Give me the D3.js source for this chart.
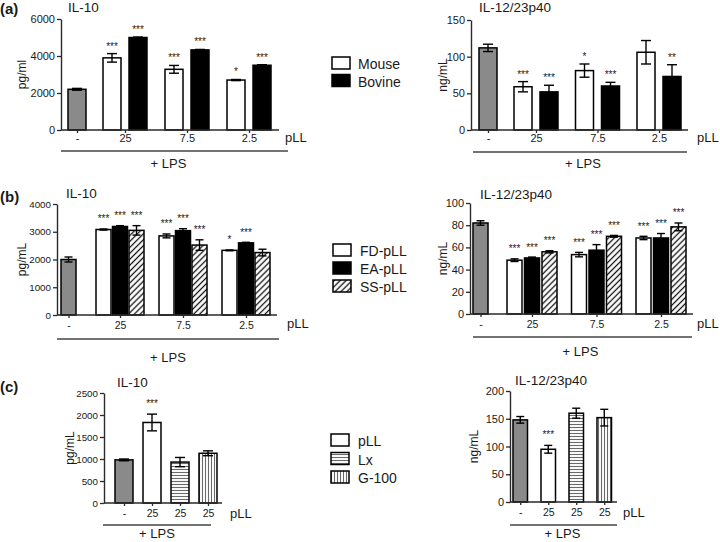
<!DOCTYPE html>
<html><head><meta charset="utf-8">
<script src="https://cdn.jsdelivr.net/npm/d3@7"></script>
<style>
body{margin:0;background:#fff}
svg text{font-family:Arial,"Liberation Sans",Helvetica,sans-serif;fill:#1a1a1a}
</style>
</head><body>
<svg id="chart" width="720" height="542"></svg>
<script>
// ---------------- DATA ----------------
const doseLabelsAB = ["-", "25", "7.5", "2.5"];
const doseLabelsC = ["-", "25", "25", "25"];

const legendA = ["Mouse", "Bovine"];
const legendB = ["FD-pLL", "EA-pLL", "SS-pLL"];
const legendC = ["pLL", "Lx", "G-100"];

// (a)
const barSeriesA = ["LPS", "Mouse", "Bovine", "Mouse", "Bovine", "Mouse", "Bovine"];
const barGroupA = [0, 1, 1, 2, 2, 3, 3];
const aIL10Mean = [2200, 3900, 5000, 3280, 4330, 2700, 3500];
const aIL10Err = [50, 230, 25, 210, 25, 30, 30];
const aIL10Sig = ["", "***", "***", "***", "***", "*", "***"];
const aIL10Ticks = [0, 2000, 4000, 6000];
const aIL12Mean = [112, 59, 52, 81, 60, 106, 73];
const aIL12Err = [5, 7, 9, 9, 5, 16, 16];
const aIL12Sig = ["", "***", "***", "*", "***", "", "**"];
const aIL12Ticks = [0, 50, 100, 150];

// (b)
const barSeriesB = ["LPS", "FD-pLL", "EA-pLL", "SS-pLL", "FD-pLL", "EA-pLL", "SS-pLL", "FD-pLL", "EA-pLL", "SS-pLL"];
const barGroupB = [0, 1, 1, 1, 2, 2, 2, 3, 3, 3];
const bIL10Mean = [2000, 3080, 3190, 3050, 2850, 3040, 2520, 2330, 2600, 2250];
const bIL10Err = [90, 20, 30, 170, 70, 70, 190, 15, 20, 120];
const bIL10Sig = ["", "***", "***", "***", "***", "***", "***", "*", "***", ""];
const bIL10Ticks = [0, 1000, 2000, 3000, 4000];
const bIL12Mean = [82, 48.5, 50.5, 56, 53.5, 57.5, 70, 68.5, 68.5, 78.5];
const bIL12Err = [2, 1.2, 0.8, 1, 2, 5, 0.8, 1.5, 4, 3.5];
const bIL12Sig = ["", "***", "***", "***", "***", "***", "***", "***", "***", "***"];
const bIL12Ticks = [0, 20, 40, 60, 80, 100];

// (c)
const barSeriesC = ["LPS", "pLL", "Lx", "G-100"];
const barGroupC = [0, 1, 2, 3];
const cIL10Mean = [980, 1830, 930, 1130];
const cIL10Err = [20, 190, 105, 55];
const cIL10Sig = ["", "***", "", ""];
const cIL10Ticks = [0, 500, 1000, 1500, 2000, 2500];
const cIL12Mean = [148, 95, 160, 152];
const cIL12Err = [6, 7, 9, 15];
const cIL12Sig = ["", "***", "", ""];
const cIL12Ticks = [0, 50, 100, 150, 200];

// ---------------- STYLES ----------------
const svg = d3.select("#chart");
const defs = svg.append("defs");
function hatch(id, rot, spacing, color, sw) {
  const p = defs.append("pattern").attr("id", id).attr("patternUnits", "userSpaceOnUse")
    .attr("width", spacing).attr("height", spacing).attr("patternTransform", `rotate(${rot})`);
  p.append("rect").attr("width", spacing).attr("height", spacing).attr("fill", "#fff");
  p.append("line").attr("x1", spacing / 2).attr("y1", 0).attr("x2", spacing / 2).attr("y2", spacing)
    .attr("stroke", color).attr("stroke-width", sw);
}
hatch("diag", 45, 4.2, "#111", 1.3);
hatch("horiz", 90, 3, "#6a6a6a", 1.1);
hatch("vert", 0, 3, "#6a6a6a", 1.1);

const fillFor = {
  "LPS": "#8a8a8a",
  "Mouse": "#fff", "Bovine": "#000",
  "FD-pLL": "#fff", "EA-pLL": "#000", "SS-pLL": "url(#diag)",
  "pLL": "#fff", "Lx": "url(#horiz)", "G-100": "url(#vert)"
};
const AX = "#2a2a2a";
const FONT = "Arial, 'Liberation Sans', sans-serif";

// ---------------- DRAW ----------------
function drawPanel(cfg, d) {
  const g = svg.append("g");
  const nGroups = d3.max(d.group) + 1;
  let pos = cfg.pad;
  const barX = [], centers = [];
  for (let gi = 0; gi < nGroups; gi++) {
    if (gi > 0) pos += (gi === 1 ? cfg.firstGap : cfg.gap);
    const start = pos;
    const idx = d.group.map((v, i) => v === gi ? i : -1).filter(i => i >= 0);
    idx.forEach((i, k) => {
      barX[i] = pos; pos += cfg.barW;
      if (k < idx.length - 1) pos += cfg.inner;
    });
    centers.push((start + pos) / 2);
  }
  const total = pos + cfg.padR;
  const x = d3.scaleLinear().domain([0, total]).range([cfg.axisX, cfg.axisX + total]);
  const y = d3.scaleLinear().domain([0, d3.max(d.ticks)]).range([cfg.yBot, cfg.yTop]);

  g.selectAll("rect.bar").data(d.mean).enter().append("rect")
    .attr("x", (v, i) => x(barX[i]))
    .attr("width", (v, i) => x(barX[i] + cfg.barW) - x(barX[i]))
    .attr("y", v => y(v))
    .attr("height", v => y(0) - y(v))
    .attr("fill", (v, i) => fillFor[d.series[i]])
    .attr("stroke", "#000").attr("stroke-width", 1.5);

  const cap = cfg.cap;
  d.mean.forEach((v, i) => {
    const cx = x(barX[i] + cfg.barW / 2);
    const y1 = y(v + d.err[i]), y0 = y(v - d.err[i]);
    const eg = g.append("g").attr("stroke", "#000").attr("stroke-width", 1.4);
    eg.append("line").attr("x1", cx).attr("x2", cx).attr("y1", y1).attr("y2", y0);
    eg.append("line").attr("x1", cx - cap / 2).attr("x2", cx + cap / 2).attr("y1", y1).attr("y2", y1);
    eg.append("line").attr("x1", cx - cap / 2).attr("x2", cx + cap / 2).attr("y1", y0).attr("y2", y0);
    if (d.sig[i]) {
      g.append("text").attr("x", cx).attr("y", y1 - cfg.starOff)
        .attr("text-anchor", "middle").attr("font-size", 10).style("fill", "#222").text(d.sig[i]);
    }
  });

  const ya = g.append("g").attr("transform", `translate(${cfg.axisX},0)`)
    .call(d3.axisLeft(y).tickValues(d.ticks).tickFormat(d3.format("d")).tickSize(4).tickSizeOuter(0).tickPadding(2));
  ya.select(".domain").attr("stroke", AX).attr("stroke-width", 1.4);
  ya.selectAll(".tick line").attr("stroke", AX).attr("stroke-width", 1.3);
  ya.selectAll(".tick text").attr("font-size", cfg.yFont).attr("font-family", FONT).attr("fill", "#1a1a1a");

  g.append("line").attr("x1", x(0)).attr("x2", x(total)).attr("y1", cfg.yBot).attr("y2", cfg.yBot)
    .attr("stroke", AX).attr("stroke-width", 1.4);
  const xo = d3.scaleOrdinal().domain(d3.range(nGroups)).range(centers.map(c => x(c)));
  const xa = g.append("g").attr("transform", `translate(0,${cfg.yBot})`)
    .call(d3.axisBottom(xo).tickSize(3).tickSizeOuter(0).tickPadding(cfg.tickPad).tickFormat(i => d.labels[i]));
  xa.select(".domain").remove();
  xa.selectAll(".tick line").attr("stroke", AX).attr("stroke-width", 1.3);
  xa.selectAll(".tick text").attr("font-size", cfg.xFont).attr("font-family", FONT).attr("fill", "#1a1a1a");

  g.append("text").attr("x", cfg.pllX).attr("y", cfg.pllY).attr("font-size", 13).text("pLL");
  g.append("line").attr("x1", cfg.lpsX0).attr("x2", cfg.lpsX1).attr("y1", cfg.lpsY).attr("y2", cfg.lpsY)
    .attr("stroke", "#444").attr("stroke-width", 1.4);
  g.append("text").attr("x", (cfg.lpsX0 + cfg.lpsX1) / 2 + cfg.lpsTextShift).attr("y", cfg.lpsTextY)
    .attr("text-anchor", "middle").attr("font-size", 13).text("+ LPS");
  g.append("text").attr("x", cfg.titleX).attr("y", cfg.titleY).attr("font-size", 13.5).text(d.title);
  g.append("text").attr("transform", `translate(${cfg.ylabX},${(cfg.yTop + cfg.yBot) / 2}) rotate(-90)`)
    .attr("text-anchor", "middle").attr("dy", "0.35em").attr("font-size", 12).text(d.ylab);
}

function drawLegend(names, x0, y0, step, textX) {
  const g = svg.append("g");
  names.forEach((n, i) => {
    g.append("rect").attr("x", x0).attr("y", y0 + i * step).attr("width", 18).attr("height", 12)
      .attr("fill", fillFor[n]).attr("stroke", "#000").attr("stroke-width", 1.5);
    g.append("text").attr("x", textX).attr("y", y0 + i * step + 12).attr("font-size", 14).text(n);
  });
}

function panelLetter(t, yb) {
  svg.append("text").attr("x", 0).attr("y", yb).attr("font-size", 15).attr("font-weight", "bold").text(t);
}

// Row (a)
panelLetter("(a)", 14);
drawPanel({axisX: 61, yTop: 19, yBot: 130, pad: 7, barW: 18, inner: 8, firstGap: 17, gap: 18, padR: 8, cap: 10,
  yFont: 11, xFont: 11,
  tickPad: 1, starOff: 4, pllX: 285, pllY: 142, lpsX0: 61, lpsX1: 288, lpsY: 151, lpsTextY: 168, lpsTextShift: -6,
  titleX: 68, titleY: 12, ylabX: 22},
  {group: barGroupA, series: barSeriesA, mean: aIL10Mean, err: aIL10Err, sig: aIL10Sig, ticks: aIL10Ticks,
   labels: doseLabelsAB, title: "IL-10", ylab: "pg/ml"});
drawPanel({axisX: 471, yTop: 20, yBot: 130, pad: 8, barW: 18, inner: 8, firstGap: 17, gap: 17.5, padR: 7, cap: 10,
  yFont: 11, xFont: 11,
  tickPad: 1, starOff: 4, pllX: 697, pllY: 142, lpsX0: 473, lpsX1: 687, lpsY: 152, lpsTextY: 168, lpsTextShift: 3,
  titleX: 479, titleY: 12, ylabX: 443},
  {group: barGroupA, series: barSeriesA, mean: aIL12Mean, err: aIL12Err, sig: aIL12Sig, ticks: aIL12Ticks,
   labels: doseLabelsAB, title: "IL-12/23p40", ylab: "ng/mL"});
drawLegend(legendA, 332, 57, 17.5, 358);

// Row (b)
panelLetter("(b)", 202);
drawPanel({axisX: 57, yTop: 204, yBot: 315, pad: 4, barW: 15, inner: 1.5, firstGap: 20, gap: 15, padR: 7, cap: 8,
  yFont: 9.8, xFont: 10.5,
  tickPad: 4, starOff: 6.5, pllX: 287, pllY: 328, lpsX0: 57, lpsX1: 279, lpsY: 339, lpsTextY: 362, lpsTextShift: 0,
  titleX: 66, titleY: 198, ylabX: 22},
  {group: barGroupB, series: barSeriesB, mean: bIL10Mean, err: bIL10Err, sig: bIL10Sig, ticks: bIL10Ticks,
   labels: doseLabelsAB, title: "IL-10", ylab: "pg/mL"});
drawPanel({axisX: 470, yTop: 203, yBot: 314, pad: 3, barW: 15, inner: 2.5, firstGap: 19, gap: 14.5, padR: 7, cap: 8,
  yFont: 11, xFont: 10.5,
  tickPad: 4, starOff: 6.5, pllX: 697, pllY: 328, lpsX0: 473, lpsX1: 692, lpsY: 337, lpsTextY: 356, lpsTextShift: -2,
  titleX: 480, titleY: 199, ylabX: 443},
  {group: barGroupB, series: barSeriesB, mean: bIL12Mean, err: bIL12Err, sig: bIL12Sig, ticks: bIL12Ticks,
   labels: doseLabelsAB, title: "IL-12/23p40", ylab: "ng/mL"});
drawLegend(legendB, 333, 244, 18, 360);

// Row (c)
panelLetter("(c)", 392);
drawPanel({axisX: 104, yTop: 393, yBot: 503, pad: 11, barW: 18, inner: 0, firstGap: 10, gap: 10, padR: 5, cap: 10,
  yFont: 9.8, xFont: 10.5,
  tickPad: 4, starOff: 7, pllX: 230, pllY: 518, lpsX0: 103, lpsX1: 211, lpsY: 525, lpsTextY: 538, lpsTextShift: 0,
  titleX: 117, titleY: 387, ylabX: 70},
  {group: barGroupC, series: barSeriesC, mean: cIL10Mean, err: cIL10Err, sig: cIL10Sig, ticks: cIL10Ticks,
   labels: doseLabelsC, title: "IL-10", ylab: "pg/mL"});
drawPanel({axisX: 510, yTop: 391, yBot: 502, pad: 3, barW: 14.5, inner: 0, firstGap: 13.5, gap: 13.5, padR: 5.5, cap: 8,
  yFont: 11, xFont: 10.5,
  tickPad: 4, starOff: 7.5, pllX: 623, pllY: 517, lpsX0: 510, lpsX1: 617, lpsY: 525, lpsTextY: 538, lpsTextShift: -1,
  titleX: 515, titleY: 385, ylabX: 474},
  {group: barGroupC, series: barSeriesC, mean: cIL12Mean, err: cIL12Err, sig: cIL12Sig, ticks: cIL12Ticks,
   labels: doseLabelsC, title: "IL-12/23p40", ylab: "ng/mL"});
drawLegend(legendC, 331, 434, 18.5, 358);
</script>
</body></html>
